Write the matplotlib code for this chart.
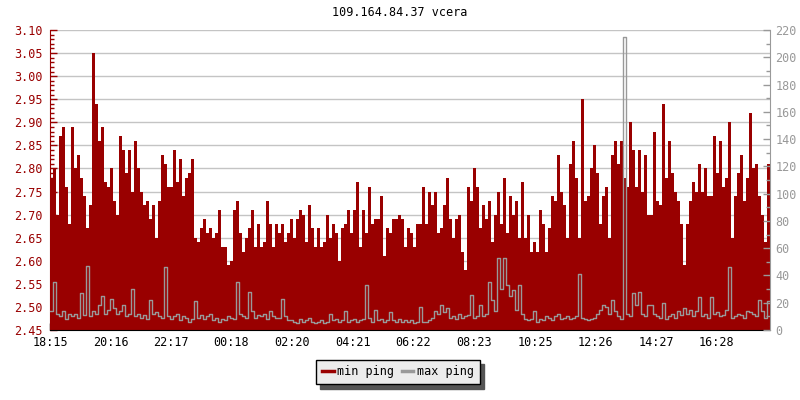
import matplotlib
matplotlib.use("Agg")
import matplotlib.pyplot as plt
import numpy as np
from matplotlib.ticker import MultipleLocator, FixedLocator, FormatStrFormatter
from matplotlib.lines import Line2D

title = "109.164.84.37 vcera"
start_time = "18:15"
step_min = 6
tick_labels = ["18:15", "20:16", "22:17", "00:18", "02:20", "04:21",
               "06:22", "08:23", "10:25", "12:26", "14:27", "16:28"]

# min ping (left axis)
min_ping = [
    2.78, 2.80, 2.70, 2.87, 2.89, 2.76, 2.68, 2.89, 2.80, 2.83, 2.78, 2.74, 2.67, 2.72, 3.05, 2.94, 2.86, 2.89, 2.77, 2.76,
    2.80, 2.73, 2.70, 2.87, 2.84, 2.79, 2.84, 2.75, 2.86, 2.80, 2.75, 2.72, 2.73, 2.69, 2.72, 2.65, 2.73, 2.83, 2.81, 2.76,
    2.76, 2.84, 2.77, 2.82, 2.74, 2.78, 2.79, 2.82, 2.65, 2.64, 2.67, 2.69, 2.66, 2.67, 2.65, 2.66, 2.71, 2.63, 2.63, 2.59,
    2.60, 2.71, 2.73, 2.66, 2.62, 2.65, 2.67, 2.71, 2.63, 2.68, 2.63, 2.64, 2.73, 2.68, 2.63, 2.68, 2.66, 2.68, 2.64, 2.66,
    2.69, 2.65, 2.69, 2.71, 2.70, 2.64, 2.72, 2.67, 2.63, 2.67, 2.63, 2.64, 2.70, 2.65, 2.68, 2.66, 2.60, 2.67, 2.68, 2.71,
    2.66, 2.71, 2.77, 2.63, 2.71, 2.66, 2.76, 2.68, 2.69, 2.69, 2.74, 2.61, 2.67, 2.66, 2.69, 2.69, 2.70, 2.69, 2.63, 2.67,
    2.66, 2.63, 2.68, 2.68, 2.76, 2.68, 2.75, 2.72, 2.75, 2.66, 2.67, 2.72, 2.78, 2.69, 2.65, 2.69, 2.70, 2.62, 2.58, 2.76,
    2.73, 2.80, 2.76, 2.67, 2.72, 2.69, 2.73, 2.64, 2.70, 2.75, 2.68, 2.78, 2.66, 2.74, 2.70, 2.73, 2.65, 2.77, 2.65, 2.70,
    2.62, 2.64, 2.62, 2.71, 2.68, 2.62, 2.67, 2.74, 2.73, 2.83, 2.75, 2.72, 2.65, 2.81, 2.86, 2.78, 2.65, 2.95, 2.73, 2.74,
    2.80, 2.85, 2.79, 2.68, 2.74, 2.76, 2.65, 2.83, 2.86, 2.81, 2.86, 2.78, 2.76, 2.90, 2.84, 2.76, 2.84, 2.75, 2.83, 2.70,
    2.70, 2.88, 2.73, 2.72, 2.94, 2.78, 2.86, 2.79, 2.75, 2.73, 2.68, 2.59, 2.68, 2.73, 2.77, 2.75, 2.81, 2.75, 2.80, 2.74,
    2.74, 2.87, 2.79, 2.86, 2.76, 2.78, 2.90, 2.65, 2.74, 2.79, 2.83, 2.73, 2.78, 2.92, 2.80, 2.81, 2.74, 2.70, 2.64, 2.81,
]

# max ping (right axis)
max_ping = [
    14, 35, 12, 10, 14, 8, 12, 10, 12, 9, 27, 11, 47, 10, 14, 12, 18, 25, 12, 15,
    23, 16, 12, 14, 18, 10, 12, 30, 10, 12, 9, 11, 8, 22, 12, 13, 10, 9, 46, 10,
    8, 10, 12, 7, 10, 9, 6, 8, 21, 9, 11, 8, 10, 12, 7, 9, 6, 8, 7, 10,
    9, 8, 35, 12, 10, 9, 28, 14, 9, 11, 10, 12, 8, 14, 10, 9, 9, 23, 10, 7,
    7, 6, 5, 8, 6, 7, 9, 6, 5, 6, 7, 5, 6, 12, 7, 8, 6, 7, 14, 6,
    7, 8, 6, 7, 8, 33, 9, 6, 15, 7, 8, 6, 7, 13, 7, 6, 8, 6, 7, 6,
    7, 5, 6, 17, 6, 6, 7, 9, 14, 12, 18, 13, 16, 9, 10, 8, 12, 9, 10, 11,
    26, 9, 10, 18, 10, 12, 35, 22, 14, 53, 30, 53, 33, 25, 29, 15, 33, 12, 8, 7,
    8, 14, 6, 8, 7, 10, 9, 7, 10, 12, 8, 9, 10, 8, 9, 10, 41, 9, 8, 7,
    8, 9, 12, 15, 18, 17, 12, 22, 14, 10, 8, 215, 12, 10, 27, 18, 28, 12, 10, 18,
    18, 12, 10, 9, 20, 8, 10, 12, 9, 14, 11, 16, 12, 15, 10, 14, 24, 10, 12, 9,
    24, 12, 13, 10, 11, 15, 46, 9, 10, 12, 11, 9, 14, 13, 12, 10, 22, 14, 9, 21,
]

RED = "#990000"
GRAY = "#999999"
GRID = "#c4c4c4"
FONT = "DejaVu Sans Mono"
FS = 8.5

plt.rcParams['font.family'] = [FONT, 'DejaVu Sans']


def to_min(s):
    h, m = s.split(":")
    return int(h) * 60 + int(m)


t0 = to_min(start_time)
n = len(min_ping)
x = np.arange(n + 1) * step_min
ymin = np.append(min_ping, min_ping[-1])
ymax = np.append(max_ping, max_ping[-1])
tick_pos = [(to_min(t) - t0) % 1440 for t in tick_labels]

fig = plt.figure(figsize=(8, 4), dpi=100)
ax = fig.add_axes([50 / 800, 1 - 330 / 400, 720 / 800, 300 / 400])
ax2 = ax.twinx()

ax.set_axisbelow(True)
ax.fill_between(x, ymin, 2.45, step='post', color=RED, lw=0, zorder=2)
ax2.step(x, ymax, where='post', color=GRAY, lw=1.0, zorder=3)

ax.set_xlim(0, n * step_min)
ax.set_ylim(2.45, 3.10)
ax2.set_ylim(0, 220)

ax.yaxis.set_major_locator(MultipleLocator(0.05))
ax.yaxis.set_minor_locator(MultipleLocator(0.01))
ax.yaxis.set_major_formatter(FormatStrFormatter('%.2f'))
ax2.yaxis.set_major_locator(MultipleLocator(20))
ax2.yaxis.set_minor_locator(MultipleLocator(10))
ax.xaxis.set_major_locator(FixedLocator(tick_pos))
ax.set_xticklabels(tick_labels)

ax.grid(axis='y', which='major', color=GRID, lw=1.0)

ax.tick_params(axis='y', which='major', direction='in', length=5, width=1,
               color=RED, labelcolor=RED, labelsize=FS, pad=5)
ax.tick_params(axis='y', which='minor', direction='in', length=3, width=1, color=RED)
ax.tick_params(axis='x', which='major', direction='in', length=5, width=1,
               color='black', labelcolor='black', labelsize=FS, pad=4)
ax2.tick_params(axis='y', which='major', direction='in', length=5, width=1,
                color=GRAY, labelcolor=GRAY, labelsize=FS, pad=4)
ax2.tick_params(axis='y', which='minor', direction='in', length=3, width=1, color=GRAY)

for a in (ax, ax2):
    a.spines['top'].set_visible(False)
ax.spines['left'].set_color(RED)
ax.spines['right'].set_visible(False)
ax2.spines['left'].set_visible(False)
ax2.spines['right'].set_color(GRAY)
ax2.spines['bottom'].set_visible(False)
ax.spines['bottom'].set_color('black')
ax.spines['bottom'].set_zorder(5)

fig.text(0.5, 1 - 13 / 400, title, ha='center', va='center', fontsize=FS, color='black')

handles = [Line2D([], [], color=RED, lw=2.5), Line2D([], [], color=GRAY, lw=2.5)]
leg = fig.legend(handles, ["min ping", "max ping"], loc='center',
                 bbox_to_anchor=(398 / 800, 1 - 372 / 400), ncol=2, fontsize=FS,
                 handlelength=1.0, handletextpad=0.3, columnspacing=0.6,
                 fancybox=False, framealpha=1, edgecolor='black',
                 facecolor='#ececec', borderpad=0.5,
                 shadow={'color': '#555555', 'alpha': 1.0, 'ox': 3, 'oy': -3})
leg.get_frame().set_linewidth(1.0)

fig.savefig("out.png", dpi=100)
